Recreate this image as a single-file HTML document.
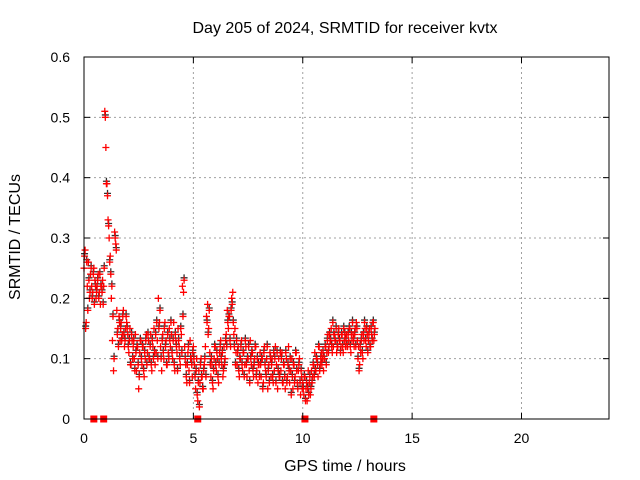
<!DOCTYPE html>
<html><head><meta charset="utf-8"><style>
body{margin:0;background:#fff}
svg{display:block;font-family:"Liberation Sans",sans-serif}
</style></head><body>
<svg id="chart" width="640" height="480" viewBox="0 0 640 480" xmlns="http://www.w3.org/2000/svg">
<rect width="640" height="480" fill="#fff"/>
<text x="345" y="33" font-size="16" text-anchor="middle">Day 205 of 2024, SRMTID for receiver kvtx</text>
<text transform="translate(20,237) rotate(-90)" font-size="16" text-anchor="middle">SRMTID / TECUs</text>
<text x="345" y="471" font-size="16" text-anchor="middle">GPS time / hours</text>
<g id="grid"></g><g id="marks"></g><g id="axes"></g>
</svg>
<script>
const xTicks=[0,5,10,15,20];
const yTicks=[0,0.1,0.2,0.3,0.4,0.5,0.6];
const yTickLabels=["0","0.1","0.2","0.3","0.4","0.5","0.6"];
const t0A=0, t0B=0.025, dt=0.05;
const srmtidA=[.25,.28,.16,.22,.26,.20,.24,.22,.21,.25,.23,.20,.22,.24,.21,.19,.22,.23,.22,.51,
.45,.39,.33,.30,.27,.20,.13,.08,.31,.29,.18,.15,.17,.13,.16,.14,.18,.12,.15,.16,
.14,.11,.15,.09,.13,.12,.10,.14,.08,.12,.05,.11,.13,.09,.12,.07,.10,.14,.11,.13,
.10,.14,.08,.12,.15,.09,.11,.13,.20,.16,.12,.08,.14,.10,.16,.13,.09,.11,.15,.12,
.14,.10,.16,.08,.13,.11,.15,.12,.09,.14,.22,.21,.12,.09,.06,.11,.08,.13,.10,.07,
.12,.09,.05,.10,.03,.08,.06,.10,.07,.05,.09,.12,.17,.19,.15,.11,.07,.09,.05,.10,
.12,.08,.10,.06,.11,.13,.09,.07,.12,.10,.14,.18,.15,.17,.12,.20,.21,.14,.15,.11,
.09,.12,.07,.10,.13,.08,.11,.09,.12,.07,.10,.08,.13,.09,.11,.07,.10,.12,.08,.06,
.09,.11,.07,.10,.06,.12,.08,.10,.05,.09,.11,.07,.10,.06,.08,.12,.09,.05,.10,.07,
.08,.11,.06,.09,.05,.10,.07,.12,.06,.08,.10,.05,.09,.07,.11,.06,.08,.10,.04,.07,
.06,.04,.07,.05,.03,.08,.06,.04,.08,.07,.09,.11,.08,.10,.07,.12,.09,.11,.10,.08,
.10,.12,.11,.14,.12,.13,.15,.11,.12,.14,.13,.11,.12,.15,.13,.12,.14,.11,.13,.12,
.14,.12,.13,.15,.11,.13,.14,.12,.15,.16,.13,.12,.09,.11,.14,.10,.13,.15,.12,.14,
.13,.15,.12,.14,.16,.13,.15];
const srmtidB=[.27,.15,.26,.18,.23,.21,.25,.20,.24,.19,.22,.21,.23,.20,.24,.22,.21,.19,.25,.50,
.39,.37,.32,.26,.24,.22,.17,.10,.30,.28,.14,.12,.16,.15,.13,.17,.14,.13,.17,.15,
.12,.13,.09,.14,.10,.13,.08,.11,.12,.09,.07,.13,.10,.12,.08,.11,.13,.09,.14,.10,
.12,.09,.13,.10,.11,.14,.16,.10,.15,.18,.10,.13,.11,.15,.12,.09,.14,.10,.13,.16,
.11,.13,.09,.14,.12,.08,.13,.10,.15,.11,.17,.23,.10,.07,.09,.12,.06,.10,.09,.11,
.10,.07,.08,.04,.06,.02,.09,.07,.05,.08,.10,.07,.16,.14,.18,.09,.10,.06,.08,.12,
.09,.11,.07,.09,.12,.10,.11,.08,.09,.13,.12,.16,.17,.13,.18,.19,.16,.12,.09,.13,
.11,.08,.10,.12,.09,.11,.07,.13,.09,.10,.12,.06,.10,.11,.08,.09,.12,.07,.10,.09,
.07,.09,.10,.05,.11,.09,.07,.12,.08,.06,.10,.09,.07,.11,.10,.06,.11,.08,.07,.11,
.10,.06,.09,.07,.11,.06,.09,.08,.10,.04,.07,.09,.06,.11,.08,.05,.09,.06,.08,.05,
.05,.07,.03,.06,.05,.04,.07,.05,.06,.09,.07,.08,.10,.09,.12,.08,.10,.09,.11,.10,
.12,.09,.13,.11,.14,.13,.12,.16,.14,.13,.15,.12,.14,.13,.11,.14,.12,.15,.14,.13,
.12,.14,.15,.12,.14,.16,.13,.14,.12,.15,.10,.08,.12,.13,.11,.14,.16,.13,.15,.11,
.14,.12,.15,.13,.16,.14];
const gapTimes=[0.45,0.9,5.2,10.1,13.25];

const L=84,R=609,T=57,B=419,XMAX=24,YMAX=0.6;
const xS=v=>L+(R-L)*v/XMAX;
const yS=v=>B-(B-T)*v/YMAX;
const NS="http://www.w3.org/2000/svg";
function mk(tag,attrs,parent){const e=document.createElementNS(NS,tag);for(const k in attrs)e.setAttribute(k,attrs[k]);parent.appendChild(e);return e;}
const grid=document.getElementById('grid'),marks=document.getElementById('marks'),axes=document.getElementById('axes');
xTicks.forEach(v=>{const x=xS(v);
 if(v>0){const g=mk('line',{x1:x,x2:x,y1:T,y2:B,stroke:'#a0a0a0','stroke-dasharray':'2,3'},grid);
 }
 const t=mk('line',{x1:x,x2:x,y1:B,y2:B-6,stroke:'#000'},axes);
 const t2=mk('line',{x1:x,x2:x,y1:T,y2:T+6,stroke:'#000'},axes);
 const l=mk('text',{x:x,y:443,'font-size':14,'text-anchor':'middle'},axes);l.textContent=String(v);
 });
yTicks.forEach((v,i)=>{const y=yS(v);
 if(v>0&&v<YMAX){const g=mk('line',{x1:L,x2:R,y1:y,y2:y,stroke:'#a0a0a0','stroke-dasharray':'2,3'},grid);
 }
 const t=mk('line',{x1:L,x2:L+6,y1:y,y2:y,stroke:'#000'},axes);
 const t2=mk('line',{x1:R,x2:R-6,y1:y,y2:y,stroke:'#000'},axes);
 const l=mk('text',{x:L-14,y:y+5,'font-size':14,'text-anchor':'end'},axes);l.textContent=yTickLabels[i];
 });
const fr=mk('rect',{x:L,y:T,width:R-L,height:B-T,fill:'none',stroke:'#000'},axes);

function plus(t,v,col){const x=xS(t),y=yS(v);
 const p=mk('path',{d:`M${x-3.5},${y}h7M${x},${y-3.5}v7`,stroke:col,'stroke-width':1.3,fill:'none'},marks);
 }
srmtidB.forEach((v,i)=>plus(t0B+i*dt,v+0.004,'#303030'));
srmtidA.forEach((v,i)=>plus(t0A+i*dt,v,'#ff0000'));
srmtidB.forEach((v,i)=>plus(t0B+i*dt,v,'#ff0000'));
gapTimes.forEach(t=>{const r=mk('rect',{x:xS(t)-3.5,y:B-3.5,width:7,height:7,fill:'#ff0000'},marks);
 });
</script>
</body></html>
